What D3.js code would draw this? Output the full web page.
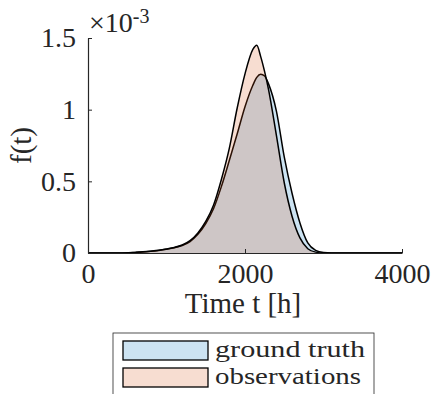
<!DOCTYPE html>
<html>
<head>
<meta charset="utf-8">
<script src="https://cdn.jsdelivr.net/npm/d3@7"></script>
<style>
  html, body { margin: 0; padding: 0; background: #fff; }
  svg { display: block; }
  text { font-family: "Liberation Serif", serif; fill: #262626; }
</style>
</head>
<body>
<svg id="chart" width="432" height="394"></svg>
<script>
// Time grid [h]
const times = [0, 400, 600, 700, 800, 900, 1000, 1100, 1200, 1300, 1400, 1500, 1600, 1700, 1800, 1900, 2000, 2100, 2150, 2200, 2250, 2300, 2400, 2500, 2600, 2700, 2800, 2900, 3000, 3100, 4000];
// Density f(t), in units of 1e-3
const groundTruth = [0, 0, 0.004, 0.007, 0.012, 0.018, 0.026, 0.036, 0.052, 0.080, 0.130, 0.205, 0.310, 0.465, 0.645, 0.830, 1.020, 1.170, 1.225, 1.247, 1.235, 1.180, 0.990, 0.670, 0.415, 0.210, 0.070, 0.018, 0.003, 0, 0];
const observations = [0, 0, 0.004, 0.008, 0.013, 0.019, 0.028, 0.039, 0.056, 0.086, 0.140, 0.220, 0.335, 0.515, 0.730, 1.010, 1.250, 1.420, 1.449, 1.370, 1.265, 1.140, 0.820, 0.490, 0.255, 0.105, 0.030, 0.006, 0, 0, 0];

const xTicks = [0, 2000, 4000];
const yTicks = [0, 0.5, 1, 1.5];
const seriesNames = ["ground truth", "observations"];
const seriesColors = ["#0072bd", "#d95319"];

const svg = d3.select("#chart");
const x = d3.scaleLinear().domain([0, 4000]).range([88, 402]);
const y = d3.scaleLinear().domain([0, 1.5]).range([253, 38]);

const area = d3.area()
  .x(d => x(d[0])).y0(y(0)).y1(d => y(d[1]))
  .curve(d3.curveMonotoneX);
const line = d3.line()
  .x(d => x(d[0])).y(d => y(d[1]))
  .curve(d3.curveMonotoneX);

[groundTruth, observations].forEach((vals, i) => {
  const pts = times.map((t, k) => [t, vals[k]]);
  svg.append("path").attr("d", area(pts))
    .attr("fill", seriesColors[i]).attr("fill-opacity", 0.2).attr("stroke", "none");
  svg.append("path").attr("d", line(pts))
    .attr("fill", "none").attr("stroke", "#000").attr("stroke-width", 1.5);
});

// Axes (ticks pointing inward, no box)
const axisColor = "#262626";
const gx = svg.append("g").attr("transform", `translate(0,${y(0)})`)
  .call(d3.axisBottom(x).tickValues(xTicks).tickSizeInner(-4).tickSizeOuter(0).tickPadding(10).tickFormat(d3.format("d")));
const gy = svg.append("g").attr("transform", `translate(${x(0)},0)`)
  .call(d3.axisLeft(y).tickValues(yTicks).tickSizeInner(-4).tickSizeOuter(0).tickPadding(12).tickFormat(d => d3.format("")(d)));
[gx, gy].forEach(g => {
  g.select(".domain").attr("stroke", axisColor).attr("stroke-width", 1.2);
  g.selectAll(".tick line").attr("stroke", axisColor).attr("stroke-width", 1);
  g.selectAll(".tick text").attr("fill", axisColor).style("font-size", "28px").style("font-family", "Liberation Serif, serif");
});

// Exponent label
const ex = svg.append("text").attr("x", 89).attr("y", 32).style("font-size", "28px");
ex.append("tspan").text("\u00d710");
ex.append("tspan").attr("dy", -9).style("font-size", "20px").text("-3");

// Axis titles
svg.append("text").attr("x", 243).attr("y", 313).attr("text-anchor", "middle")
  .style("font-size", "29px").text("Time t [h]");
svg.append("text").attr("transform", `translate(31,${(y(0) + y(1.5)) / 2}) rotate(-90)`)
  .attr("text-anchor", "middle").style("font-size", "29px").text("f(t)");

// Legend
const legendTextWidths = [150, 146];
const lg = svg.append("g");
lg.append("rect").attr("x", 113).attr("y", 333).attr("width", 261).attr("height", 70)
  .attr("fill", "#fff").attr("stroke", axisColor).attr("stroke-width", 0.8);
seriesNames.forEach((name, i) => {
  const yy = 341 + i * 27;
  lg.append("rect").attr("x", 123).attr("y", yy).attr("width", 85).attr("height", 19)
    .attr("fill", seriesColors[i]).attr("fill-opacity", 0.2)
    .attr("stroke", "#000").attr("stroke-width", 1.3);
  lg.append("text").attr("x", 215).attr("y", yy + 16).style("font-size", "24px")
    .attr("textLength", legendTextWidths[i]).attr("lengthAdjust", "spacingAndGlyphs").text(name);
});
</script>
</body>
</html>
